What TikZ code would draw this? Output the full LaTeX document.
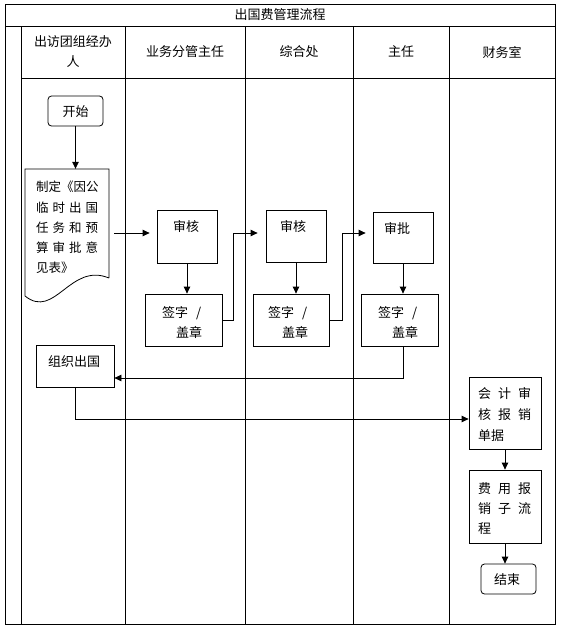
\documentclass[tikz,border=0pt]{standalone}
\usepackage{fontspec}
\newfontfamily\cjk{Noto Sans CJK SC}
\usetikzlibrary{arrows.meta,calc}
\begin{document}
\begin{tikzpicture}[x=1pt,y=-1pt,
  every node/.style={font=\cjk\fontsize{13}{20}\selectfont, inner sep=0pt},
  box/.style={draw, line width=0.8pt, rectangle},
  rbox/.style={draw, line width=0.8pt, rectangle, rounded corners=3.5pt},
  ln/.style={line width=0.8pt},
  arr/.style={line width=0.8pt, -{Triangle[length=7pt,width=6.5pt]}}
]
\useasboundingbox (0,0) rectangle (560,629);
% frame and lanes
\draw[ln] (5,4) rectangle (555,624);
\draw[ln] (5,26) -- (555,26);
\draw[ln] (21,78) -- (555,78);
\foreach \xx in {21,125,245,353,449} \draw[ln] (\xx,26) -- (\xx,624);
% title and headers
\node (title) at (280,15) {出国费管理流程};
\node[align=center] (h1) at (73,52) {出访团组经办\\人};
\node (h2) at (185,52) {业务分管主任};
\node (h3) at (299,52) {综合处};
\node (h4) at (401,52) {主任};
\node (h5) at (502,52) {财务室};
% start
\node[rbox, minimum width=55, minimum height=30] (start) at (75.5,111) {};
\node (startt) at (75.5,112) {开始};
% document shape
\node[minimum width=84, minimum height=128] (doc) at (67,233) {};
\draw[ln] (109,278) -- (109,169) -- (25,169) -- (25,296)
  .. controls (55,320) and (70,262) .. (109,278);
\node[anchor=north west, align=left, font=\cjk\fontsize{12.5}{20.25}\selectfont] (doct) at (36,181)
  {制定《因公\\\hbox to 62pt{临\hfill 时\hfill 出\hfill 国}\\\hbox to 62pt{任\hfill 务\hfill 和\hfill 预}\\\hbox to 62pt{算\hfill 审\hfill 批\hfill 意}\\见表》};
% review boxes
\node[box, minimum width=60, minimum height=53] (chk1) at (187,236.5) {};
\node (chk1t) at (186,227) {审核};
\node[box, minimum width=77, minimum height=52] (sign1) at (183.5,320) {};
\node[anchor=north west, align=left] (sign1t) at (162,306) {签字\hspace{8pt}/\\\hspace*{14pt}盖章};
\node[box, minimum width=60, minimum height=52] (chk2) at (296,236) {};
\node (chk2t) at (293,227) {审核};
\node[box, minimum width=76, minimum height=52] (sign2) at (291,320) {};
\node[anchor=north west, align=left] (sign2t) at (268,306) {签字\hspace{8pt}/\\\hspace*{14pt}盖章};
\node[box, minimum width=60, minimum height=51] (chk3) at (403,237.5) {};
\node (chk3t) at (397,228) {审批};
\node[box, minimum width=77, minimum height=52] (sign3) at (399.5,320) {};
\node[anchor=north west, align=left] (sign3t) at (378,306) {签字\hspace{8pt}/\\\hspace*{14pt}盖章};
% organise
\node[box, minimum width=78, minimum height=42] (org) at (75,366) {};
\node (orgt) at (74,362) {组织出国};
% finance
\node[box, minimum width=72, minimum height=72] (acc) at (505,413) {};
\node[anchor=north west, align=left, font=\cjk\fontsize{13}{21}\selectfont] (acct) at (478,387)
  {\hbox to 53pt{会\hfill 计\hfill 审}\\\hbox to 53pt{核\hfill 报\hfill 销}\\单据};
\node[box, minimum width=72, minimum height=73] (fee) at (505,506.5) {};
\node[anchor=north west, align=left] (feet) at (478,482)
  {\hbox to 53pt{费\hfill 用\hfill 报}\\\hbox to 53pt{销\hfill 子\hfill 流}\\程};
\node[rbox, minimum width=55, minimum height=30] (end) at (508.5,579) {};
\node (endt) at (507,580) {结束};
% connectors
\draw[arr] (start.south) -- (start.south |- doc.north);
\draw[arr, shorten <=5pt, shorten >=7pt] (doc.east) -- (doc.east -| chk1.west);
\draw[arr] (chk1.south) -- (chk1.south |- sign1.north);
\draw[arr, shorten >=8pt] (sign1.east) -- ++(11,0) |- ($(chk2.west)+(0,-3)$);
\draw[arr] (chk2.south) -- (chk2.south |- sign2.north);
\draw[arr, shorten >=7pt] (sign2.east) -- ++(13,0) |- ($(chk3.west)+(0,-4.5)$);
\draw[arr] (chk3.south) -- (chk3.south |- sign3.north);
\draw[arr] (chk3.south |- sign3.south) |- ($(org.east)+(0,12)$);
\draw[arr] (org.south) |- ($(acc.west)+(0,6)$);
\draw[arr] (acc.south) -- (fee.north);
\draw[arr] (fee.south) -- (fee.south |- end.north);
\end{tikzpicture}
\end{document}
